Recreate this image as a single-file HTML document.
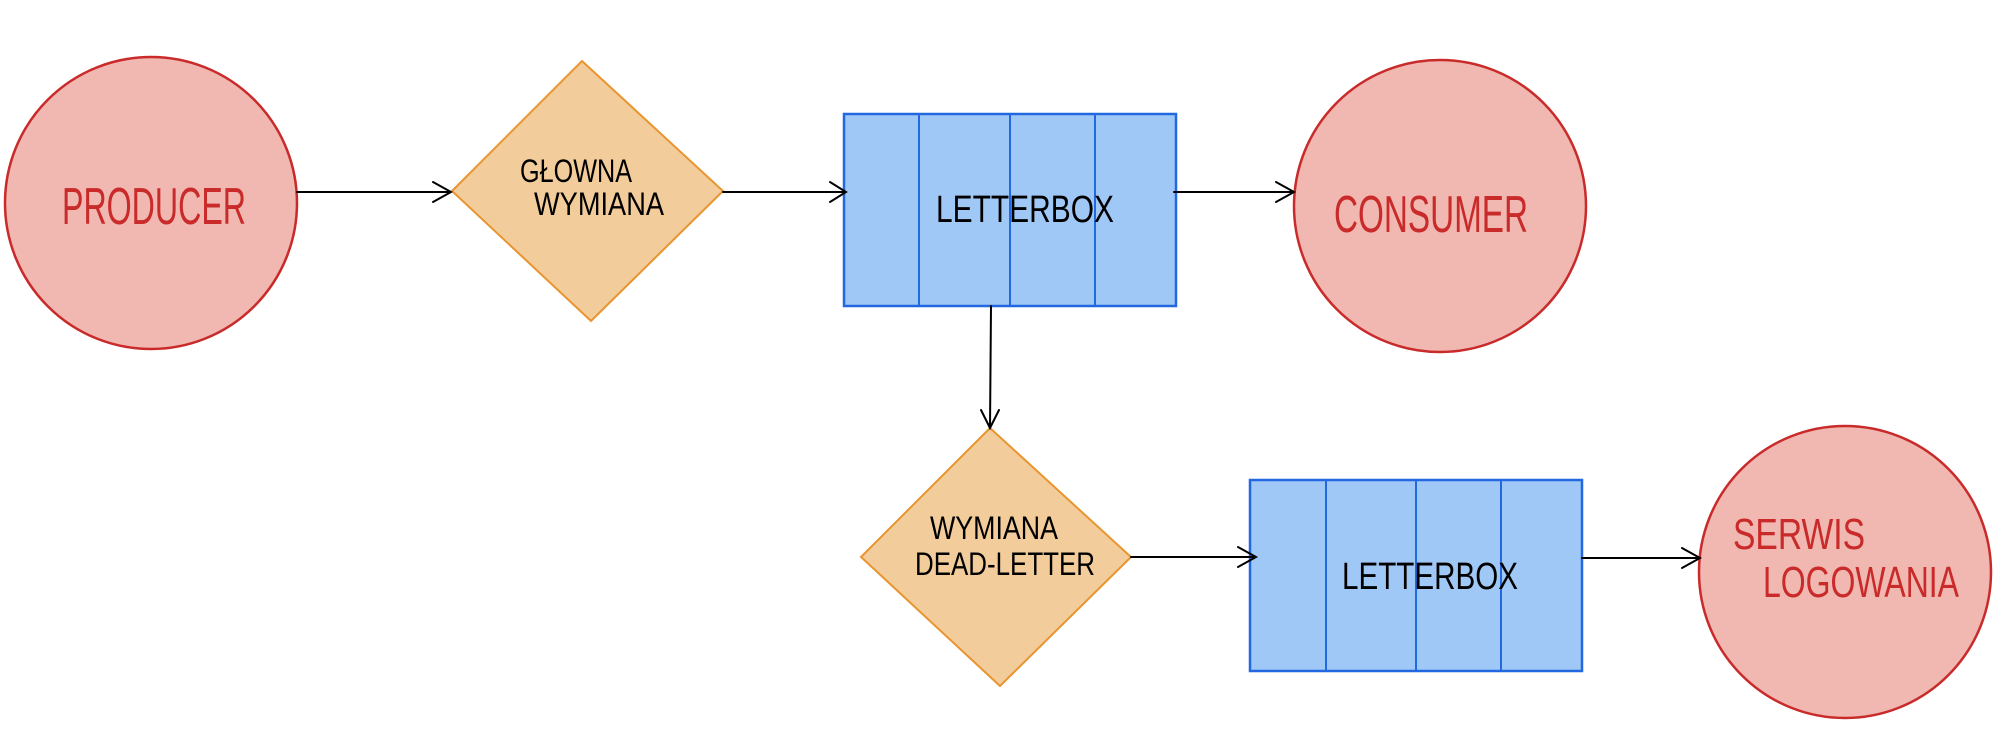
<!DOCTYPE html>
<html><head><meta charset="utf-8"><style>
html,body{margin:0;padding:0;background:#fff;}
svg{display:block}
text{font-family:"Liberation Sans",sans-serif;}
</style></head><body>
<svg width="2005" height="738" viewBox="0 0 2005 738" xmlns="http://www.w3.org/2000/svg">
<g fill="#f1b7b1" stroke="#c92a2a" stroke-width="2.5">
<ellipse cx="151" cy="203" rx="146" ry="146"/>
<ellipse cx="1440" cy="206" rx="146" ry="146"/>
<ellipse cx="1845" cy="572" rx="146" ry="146"/>
</g>
<g fill="#f2cc9a" stroke="#e8952f" stroke-width="2">
<polygon points="582,61 723,191 591,321 452,191"/>
<polygon points="990,428 1131,557 1000,686 861,557"/>
</g>
<g fill="#a0c8f6" stroke="#2268e0" stroke-width="2.5">
<rect x="844" y="114" width="332" height="192"/>
<rect x="1250" y="480" width="332" height="191"/>
</g>
<g stroke="#2268e0" stroke-width="2">
<line x1="919" y1="114" x2="919" y2="306"/><line x1="1010" y1="114" x2="1010" y2="306"/><line x1="1095" y1="114" x2="1095" y2="306"/>
<line x1="1326" y1="480" x2="1326" y2="671"/><line x1="1416" y1="480" x2="1416" y2="671"/><line x1="1501" y1="480" x2="1501" y2="671"/>
</g>
<g stroke="#000" stroke-width="2" fill="none" stroke-linecap="round">
<path d="M297 192 H451 M433 182 L451 192 L433 202"/>
<path d="M723 192 H846 M830 182 L846 192 L830 202"/>
<path d="M1174 192 H1294 M1276 182 L1294 192 L1276 202"/>
<path d="M991 306 L990 428 M981 410 L990 428 L999 410"/>
<path d="M1131 557 H1256 M1238 547 L1256 557 L1238 567"/>
<path d="M1582 558 H1700 M1682 548 L1700 558 L1682 568"/>
</g>
<g fill="#c92a2a" font-size="52">
<text x="62" y="224" textLength="184" lengthAdjust="spacingAndGlyphs">PRODUCER</text>
<text x="1334" y="232" textLength="194" lengthAdjust="spacingAndGlyphs">CONSUMER</text>
<text x="1733" y="549" font-size="44" textLength="132" lengthAdjust="spacingAndGlyphs">SERWIS</text>
<text x="1763" y="597" font-size="44" textLength="196" lengthAdjust="spacingAndGlyphs">LOGOWANIA</text>
</g>
<g fill="#000" font-size="32">
<text x="520" y="182" textLength="112" lengthAdjust="spacingAndGlyphs">GŁOWNA</text>
<text x="534" y="215" textLength="130" lengthAdjust="spacingAndGlyphs">WYMIANA</text>
<text x="936" y="222" font-size="38" textLength="178" lengthAdjust="spacingAndGlyphs">LETTERBOX</text>
<text x="930" y="539" textLength="128" lengthAdjust="spacingAndGlyphs">WYMIANA</text>
<text x="915" y="575" textLength="180" lengthAdjust="spacingAndGlyphs">DEAD-LETTER</text>
<text x="1342" y="589" font-size="38" textLength="176" lengthAdjust="spacingAndGlyphs">LETTERBOX</text>
</g>
</svg>
</body></html>
